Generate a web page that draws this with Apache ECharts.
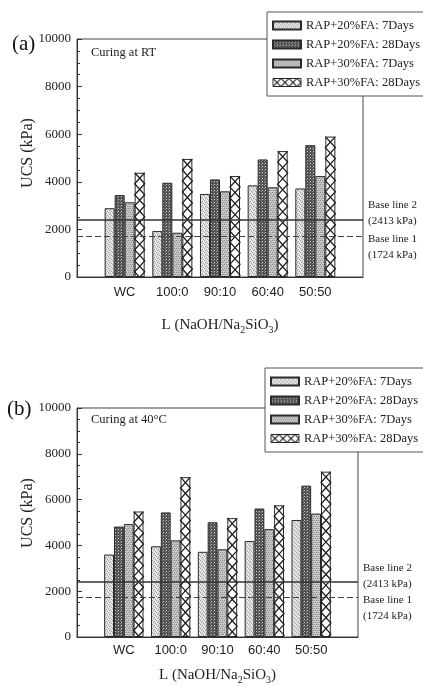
<!DOCTYPE html>
<html>
<head>
<meta charset="utf-8">
<script src="https://cdn.jsdelivr.net/npm/echarts@6/dist/echarts.min.js"></script>
<style>
  html, body { margin: 0; padding: 0; background: #fff; }
  #chart { width: 423px; height: 686px; }
</style>
</head>
<body>
<div id="chart"></div>
<script>
// Activator ratio categories (NaOH/Na2SiO3) and the four mix / curing-age series
const categories = ['WC', '100:0', '90:10', '60:40', '50:50'];
const seriesNames = ['RAP+20%FA: 7Days', 'RAP+20%FA: 28Days', 'RAP+30%FA: 7Days', 'RAP+30%FA: 28Days'];

// UCS (kPa), curing at room temperature
const rt20fa7 = [2890, 1930, 3490, 3850, 3720];
const rt20fa28 = [3440, 3960, 4100, 4940, 5540];
const rt30fa7 = [3140, 1860, 3600, 3770, 4240];
const rt30fa28 = [4380, 4960, 4240, 5290, 5900];

// UCS (kPa), curing at 40 °C
const t40fa20d7 = [3600, 3960, 3720, 4190, 5110];
const t40fa20d28 = [4820, 5440, 5010, 5610, 6610];
const t40fa30d7 = [4930, 4220, 3830, 4710, 5390];
const t40fa30d28 = [5480, 6980, 5190, 5750, 7220];

// Reference strengths
const baseLine2 = 2413;
const baseLine1 = 1724;

// Y axis range
const yMin = 0, yMax = 10000, yStep = 2000;

const SERIF = 'Liberation Serif';
const SANS = 'Liberation Sans';
const GAP = 0.16;

function pattern(w, h, draw) {
  const c = document.createElement('canvas');
  c.width = w; c.height = h;
  draw(c.getContext('2d'));
  return { image: c, repeat: 'repeat' };
}
function px(ctx, col, pts) {
  ctx.fillStyle = col;
  pts.forEach(p => ctx.fillRect(p[0], p[1], 1, 1));
}
// fine light stipple
const fillLight = pattern(4, 4, ctx => {
  ctx.fillStyle = '#e0e0e0'; ctx.fillRect(0, 0, 4, 4);
  px(ctx, '#a4a4a4', [[0, 0], [2, 1], [1, 2], [3, 3]]);
  px(ctx, '#f4f4f4', [[3, 0], [0, 2]]);
});
// dark dotted weave
const fillDark = pattern(3, 3, ctx => {
  ctx.fillStyle = '#505050'; ctx.fillRect(0, 0, 3, 3);
  px(ctx, '#d0d0d0', [[1, 1]]);
  px(ctx, '#8c8c8c', [[0, 2]]);
});
// medium grey stipple
const fillMid = pattern(4, 4, ctx => {
  ctx.fillStyle = '#c2c2c2'; ctx.fillRect(0, 0, 4, 4);
  px(ctx, '#8e8e8e', [[0, 0], [2, 0], [1, 2], [3, 2]]);
  px(ctx, '#dadada', [[1, 1], [3, 3]]);
});
const fillLatticeIcon = pattern(8, 8, ctx => {
  ctx.fillStyle = '#fff'; ctx.fillRect(0, 0, 8, 8);
  ctx.strokeStyle = '#222'; ctx.lineWidth = 1.2;
  ctx.beginPath();
  ctx.moveTo(0, 0); ctx.lineTo(8, 8);
  ctx.moveTo(8, 0); ctx.lineTo(0, 8);
  ctx.stroke();
});
const fills = [fillLight, fillDark, fillMid, '#ffffff'];

const pad = arr => [null, ...arr, null];
const axisCats = ['', ...categories, ''];

// Diamond lattice drawn inside the fourth bar of each group
function latticeItem(params, api) {
  const idx = api.value(0), v = api.value(1);
  const top = api.coord([idx, v]);
  const bot = api.coord([idx, 0]);
  const band = api.size([1, 0])[0];
  const bw = band * (1 - GAP) / 4;
  const xa = top[0] + bw, xb = top[0] + 2 * bw;
  const h = bw * 1.1;
  function zig(sx, ox) {
    const pts = [[sx, top[1]]];
    let y = top[1], cur = sx, nxt = ox;
    while (y + h < bot[1]) {
      y += h; pts.push([nxt, y]);
      const t = cur; cur = nxt; nxt = t;
    }
    const f = (bot[1] - y) / h;
    pts.push([cur + (nxt - cur) * f, bot[1]]);
    return pts;
  }
  const st = { stroke: '#1e1e1e', lineWidth: 1.3, fill: null };
  return {
    type: 'group',
    children: [
      { type: 'polyline', shape: { points: zig(xa, xb) }, style: st },
      { type: 'polyline', shape: { points: zig(xb, xa) }, style: st }
    ]
  };
}

function panelSeries(gi, sets) {
  const out = sets.map((vals, i) => ({
    name: seriesNames[i],
    type: 'bar',
    xAxisIndex: gi, yAxisIndex: gi,
    data: pad(vals),
    barGap: '0%',
    barCategoryGap: (GAP * 100) + '%',
    itemStyle: { color: fills[i], borderColor: '#2a2a2a', borderWidth: 1 },
    z: 2
  }));
  out.push({
    type: 'custom',
    xAxisIndex: gi, yAxisIndex: gi,
    data: sets[3].map((v, i) => [i + 1, v]),
    renderItem: latticeItem,
    silent: true,
    z: 3
  });
  out.push({
    type: 'line',
    xAxisIndex: gi, yAxisIndex: gi,
    data: [],
    silent: true,
    z: 5,
    markLine: {
      silent: true,
      symbol: ['none', 'none'],
      animation: false,
      label: {
        position: 'end', distance: 5,
        fontFamily: SERIF, fontSize: 11, lineHeight: 16, color: '#222', align: 'left'
      },
      data: [
        { yAxis: baseLine2, lineStyle: { type: 'solid', color: '#333', width: 1.5 },
          label: { formatter: 'Base line 2\n(' + baseLine2 + ' kPa)', offset: [0, -6] } },
        { yAxis: baseLine1, lineStyle: { type: [6, 3], color: '#444', width: 1 },
          label: { formatter: 'Base line 1\n(' + baseLine1 + ' kPa)', offset: [0, 11] } }
      ]
    }
  });
  return out;
}

function xAxisDef(gi, gap) {
  return {
    type: 'category', gridIndex: gi, data: axisCats, boundaryGap: false,
    axisLine: { lineStyle: { color: '#333', width: 1 } },
    axisTick: { show: false },
    axisLabel: { interval: 0, fontFamily: SANS, fontSize: 13, color: '#222', margin: gi === 0 ? 9 : 7 },
    name: '{a|L (NaOH/Na}{s|2}{a|SiO}{s|3}{a|)}',
    nameLocation: 'middle', nameGap: gap,
    nameTextStyle: {
      rich: {
        a: { fontFamily: SERIF, fontSize: 15, color: '#222', lineHeight: 20 },
        s: { fontFamily: SERIF, fontSize: 10, color: '#222', lineHeight: 10, verticalAlign: 'bottom' }
      }
    }
  };
}
function yAxisDef(gi) {
  return {
    type: 'value', gridIndex: gi, min: yMin, max: yMax, interval: yStep,
    axisLine: { show: true, lineStyle: { color: '#333', width: 1 } },
    axisTick: { show: true, inside: true, length: 5, lineStyle: { color: '#333' } },
    minorTick: { show: true, splitNumber: 4, length: 3, lineStyle: { color: '#333' } },
    splitLine: { show: false },
    axisLabel: { fontFamily: SERIF, fontSize: 13, color: '#222', margin: 6, formatter: v => String(v) }
  };
}
function legendDef(top, left) {
  return {
    orient: 'vertical', left: left, top: top,
    data: seriesNames.map((n, i) => i === 3
      ? { name: n, itemStyle: { color: fillLatticeIcon, borderColor: '#2a2a2a', borderWidth: 1 } }
      : { name: n }),
    icon: 'rect', itemWidth: 28, itemHeight: 8, itemGap: 6,
    padding: [7, 10, 7, 5],
    backgroundColor: '#fff', borderColor: '#555', borderWidth: 1,
    selectedMode: false,
    textStyle: { fontFamily: SERIF, fontSize: 12.5, color: '#222' },
    z: 10
  };
}

const chart = echarts.init(document.getElementById('chart'), null, { renderer: 'canvas' });
chart.setOption({
  animation: false,
  backgroundColor: '#fff',
  grid: [
    { left: 77, top: 39, width: 286, height: 238, show: true, borderColor: '#444', borderWidth: 1 },
    { left: 77, top: 408, width: 281, height: 232, show: true, borderColor: '#444', borderWidth: 1 }
  ],
  xAxis: [xAxisDef(0, 38), xAxisDef(1, 28)],
  yAxis: [yAxisDef(0), yAxisDef(1)],
  legend: [legendDef(12, 267), legendDef(368, 265)],
  graphic: [
    { type: 'text', left: 12, top: 34, style: { text: '(a)', font: '21px ' + SERIF, fill: '#111' } },
    { type: 'text', left: 7, top: 399, style: { text: '(b)', font: '21px ' + SERIF, fill: '#111' } },
    { type: 'text', left: 91, top: 46, style: { text: 'Curing at RT', font: '12.5px ' + SERIF, fill: '#222' } },
    { type: 'text', left: 91, top: 413, style: { text: 'Curing at 40°C', font: '12.5px ' + SERIF, fill: '#222' } },
    { type: 'text', x: 28, y: 153, rotation: Math.PI / 2,
      style: { text: 'UCS (kPa)', font: '16px ' + SERIF, fill: '#222', align: 'center', verticalAlign: 'middle' } },
    { type: 'text', x: 28, y: 513, rotation: Math.PI / 2,
      style: { text: 'UCS (kPa)', font: '16px ' + SERIF, fill: '#222', align: 'center', verticalAlign: 'middle' } }
  ],
  series: [
    ...panelSeries(0, [rt20fa7, rt20fa28, rt30fa7, rt30fa28]),
    ...panelSeries(1, [t40fa20d7, t40fa20d28, t40fa30d7, t40fa30d28])
  ]
});
</script>
</body>
</html>
